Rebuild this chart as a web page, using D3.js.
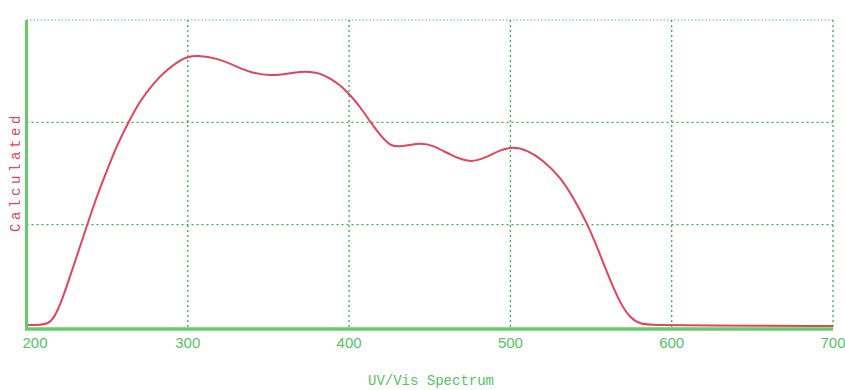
<!DOCTYPE html>
<html>
<head>
<meta charset="utf-8">
<script src="https://cdn.jsdelivr.net/npm/d3@7"></script>
<style>
  html, body { margin: 0; padding: 0; background: #ffffff; }
  svg { display: block; }
</style>
</head>
<body>
<svg id="chart" width="845" height="390"></svg>
<script>
// Wavelength (nm) and calculated absorbance of the spectrum trace
const wavelengths = [200, 208.4, 214.6, 218.7, 222.8, 229.0, 235.2, 243.5, 249.7, 255.9, 263.1, 270.4, 278.6, 286.9, 295.2, 300.3, 305.5, 318.1, 332.4, 338.6, 351.0, 363.4, 369.6, 375.8, 382.0, 388.2, 394.4, 400.6, 406.8, 413.0, 419.2, 425.4, 431.6, 437.8, 444.0, 452.0, 462.6, 475.0, 485.5, 493.5, 501.6, 510.3, 520.2, 530.8, 538.8, 547.5, 553.7, 561.8, 568.0, 574.2, 580.4, 588.4, 617.6, 700];
const absorbance = [0.02, 0.02, 0.036, 0.137, 0.296, 0.589, 0.882, 1.276, 1.52, 1.77, 2.0, 2.21, 2.381, 2.511, 2.609, 2.641, 2.655, 2.63, 2.53, 2.49, 2.45, 2.48, 2.495, 2.495, 2.479, 2.43, 2.365, 2.267, 2.153, 2.006, 1.876, 1.769, 1.762, 1.779, 1.795, 1.779, 1.681, 1.6, 1.661, 1.73, 1.762, 1.73, 1.632, 1.466, 1.27, 1.016, 0.782, 0.459, 0.235, 0.088, 0.029, 0.02, 0.015, 0.01];
const xTicks = [200, 300, 400, 500, 600, 700];
const yGrid = [1, 2, 3];

const svg = d3.select("#chart");
const plotLeft = 26.5, plotRight = 833, plotTop = 20, plotBottom = 327;

const x = d3.scaleLinear().domain([200, 700]).range([plotLeft, plotRight]);
const y = d3.scaleLinear().domain([0, 3]).range([plotBottom, plotTop]);

const gridColor = "#36b04e";
const axisColor = "#66cc6a";

// dotted grid: vertical lines at each tick, horizontal at each level
svg.append("g")
  .selectAll("line")
  .data(xTicks.slice(1))
  .join("line")
  .attr("x1", d => x(d)).attr("x2", d => x(d))
  .attr("y1", plotTop).attr("y2", plotBottom)
  .attr("stroke", gridColor).attr("stroke-width", 1.3)
  .attr("stroke-dasharray", "2,3");

svg.append("g")
  .selectAll("line")
  .data(yGrid)
  .join("line")
  .attr("x1", plotLeft).attr("x2", plotRight)
  .attr("y1", d => y(d)).attr("y2", d => y(d))
  .attr("stroke", gridColor).attr("stroke-width", d => d === 3 ? 1 : 1.3)
  .attr("stroke-dasharray", d => d === 3 ? "1.5,2" : "2,3")
  .attr("opacity", d => d === 3 ? 0.8 : 1);

// spectrum trace, smoothed through the sampled points
const line = d3.line()
  .x((d, i) => x(wavelengths[i]))
  .y(d => y(d))
  .curve(d3.curveBasis);

svg.append("path")
  .datum(absorbance)
  .attr("d", line)
  .attr("fill", "none")
  .attr("stroke", "#e0455c")
  .attr("stroke-width", 2)
  .attr("stroke-linejoin", "round");

// solid left and bottom axes
svg.append("line")
  .attr("x1", plotLeft).attr("x2", plotLeft)
  .attr("y1", plotTop).attr("y2", plotBottom + 2)
  .attr("stroke", axisColor).attr("stroke-width", 3);
svg.append("line")
  .attr("x1", plotLeft - 1.5).attr("x2", plotRight)
  .attr("y1", plotBottom + 2).attr("y2", plotBottom + 2)
  .attr("stroke", axisColor).attr("stroke-width", 3.5);

// x tick labels
svg.append("g")
  .selectAll("text")
  .data(xTicks)
  .join("text")
  .attr("x", d => d === 200 ? x(d) - 4 : x(d))
  .attr("y", 348)
  .attr("text-anchor", d => d === 200 ? "start" : "middle")
  .attr("fill", "#55c265")
  .attr("font-family", "Liberation Sans, Arial, sans-serif")
  .attr("font-size", 15)
  .text(d => d);

// axis titles
svg.append("text")
  .attr("x", 431).attr("y", 385)
  .attr("text-anchor", "middle")
  .attr("fill", "#55c265")
  .attr("font-family", "Liberation Mono, DejaVu Sans Mono, monospace")
  .attr("font-size", 14)
  .text("UV/Vis Spectrum");

svg.append("text")
  .attr("transform", "translate(20,172) rotate(-90)")
  .attr("text-anchor", "middle")
  .attr("fill", "#e0455c")
  .attr("font-family", "Liberation Mono, DejaVu Sans Mono, monospace")
  .attr("font-size", 14)
  .attr("letter-spacing", 3.6)
  .text("Calculated");
</script>
</body>
</html>
